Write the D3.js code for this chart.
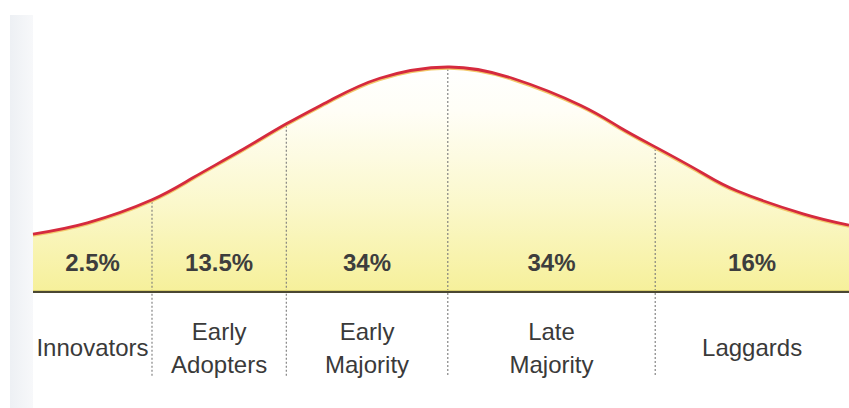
<!DOCTYPE html>
<html>
<head>
<meta charset="utf-8">
<script src="https://cdn.jsdelivr.net/npm/d3@7/dist/d3.min.js"></script>
<style>
  html, body { margin: 0; padding: 0; background: #ffffff; }
  svg { display: block; }
</style>
</head>
<body>
<svg id="chart" width="849" height="408"></svg>
<script>
// ---- Data ----
// Curve points: x in standard-deviation units, y as density
const curveX = [-2.44, -2.12, -1.74, -1.50, -1.22, -0.95, -0.69, -0.40, 0.00, 0.38, 0.78, 1.01, 1.22, 1.49, 1.70, 2.09, 2.36];
const curveY = [0.103, 0.123, 0.164, 0.203, 0.251, 0.299, 0.341, 0.380, 0.400, 0.380, 0.332, 0.293, 0.258, 0.213, 0.180, 0.139, 0.119];
// Segment boundaries (sd units)
const bounds = [-2.44, -1.74, -0.95, 0.00, 1.22, 2.36];
const shares = [2.5, 13.5, 34, 34, 16];
const categories = [["Innovators"], ["Early", "Adopters"], ["Early", "Majority"], ["Late", "Majority"], ["Laggards"]];

// ---- Layout ----
const svg = d3.select("#chart");
const W = 849, H = 408;
const x = d3.scaleLinear().domain([-2.44, 2.36]).range([33, 849]);
const y = d3.scaleLinear().domain([0, 0.4]).range([292, 67]);

const pts = curveX.map((v, i) => [v, curveY[i]]);

// background scan strip on the left
const defs = svg.append("defs");
const sg = defs.append("linearGradient").attr("id", "strip").attr("x1", 0).attr("x2", 1).attr("y1", 0).attr("y2", 0);
sg.append("stop").attr("offset", "0%").attr("stop-color", "#edf0f4");
sg.append("stop").attr("offset", "100%").attr("stop-color", "#f7f8fa");
svg.append("rect").attr("x", 10).attr("y", 15).attr("width", 23).attr("height", H - 15).attr("fill", "url(#strip)");

// fill gradient
const fg = defs.append("linearGradient").attr("id", "fill")
  .attr("gradientUnits", "userSpaceOnUse")
  .attr("x1", 0).attr("x2", 0).attr("y1", y(0)).attr("y2", y(0.4));
fg.append("stop").attr("offset", "0%").attr("stop-color", "#f6f09a");
fg.append("stop").attr("offset", "40%").attr("stop-color", "#fbf8cc");
fg.append("stop").attr("offset", "80%").attr("stop-color", "#fffef6");
fg.append("stop").attr("offset", "100%").attr("stop-color", "#ffffff");

const area = d3.area().x(d => x(d[0])).y0(y(0)).y1(d => y(d[1])).curve(d3.curveNatural);
const line = d3.line().x(d => x(d[0])).y(d => y(d[1])).curve(d3.curveNatural);

svg.append("path").datum(pts).attr("d", area).attr("fill", "url(#fill)");

// dividers
function curveAt(v) {
  for (let i = 0; i < pts.length - 1; i++) {
    if (v >= pts[i][0] && v <= pts[i + 1][0]) {
      const t = (v - pts[i][0]) / (pts[i + 1][0] - pts[i][0]);
      return pts[i][1] + t * (pts[i + 1][1] - pts[i][1]);
    }
  }
  return 0;
}
svg.selectAll("line.div").data(bounds.slice(1, -1)).join("line")
  .attr("class", "div")
  .attr("x1", d => x(d)).attr("x2", d => x(d))
  .attr("y1", d => y(curveAt(d)) + 2).attr("y2", 376)
  .attr("stroke", "#7a7a7a").attr("stroke-width", 1.1)
  .attr("stroke-dasharray", "2,2");

// baseline
svg.append("line").attr("x1", x(bounds[0])).attr("x2", x(bounds[bounds.length - 1]))
  .attr("y1", y(0) - 1.5).attr("y2", y(0) - 1.5).attr("stroke", "#d9cf70").attr("stroke-width", 1);
svg.append("line").attr("x1", x(bounds[0])).attr("x2", x(bounds[bounds.length - 1]))
  .attr("y1", y(0)).attr("y2", y(0)).attr("stroke", "#4a4732").attr("stroke-width", 2.2);

// curve
svg.append("path").datum(pts).attr("d", line)
  .attr("fill", "none").attr("stroke", "#f2c86a").attr("stroke-width", 3)
  .attr("transform", "translate(0,1.2)");
svg.append("path").datum(pts).attr("d", line)
  .attr("fill", "none").attr("stroke", "#d52a3e").attr("stroke-width", 2.8);

// percent labels
const centers = shares.map((s, i) => (x(bounds[i]) + x(bounds[i + 1])) / 2);
svg.selectAll("text.pct").data(shares).join("text")
  .attr("class", "pct")
  .attr("x", (d, i) => centers[i]).attr("y", 271)
  .attr("text-anchor", "middle")
  .attr("font-family", "'Liberation Sans', Arial, sans-serif")
  .attr("font-weight", "bold").attr("font-size", 24)
  .attr("fill", "#3d3d3d")
  .text(d => d + "%");

// category labels
const cat = svg.selectAll("g.cat").data(categories).join("g").attr("class", "cat");
cat.each(function (lines, i) {
  const g = d3.select(this);
  const ys = lines.length === 1 ? [356] : [340, 373];
  lines.forEach((t, j) => {
    g.append("text")
      .attr("x", centers[i]).attr("y", ys[j])
      .attr("text-anchor", "middle")
      .attr("font-family", "'Liberation Sans', Arial, sans-serif")
      .attr("font-size", 24)
      .attr("fill", "#3a3a3a")
      .text(t);
  });
});
</script>
</body>
</html>
